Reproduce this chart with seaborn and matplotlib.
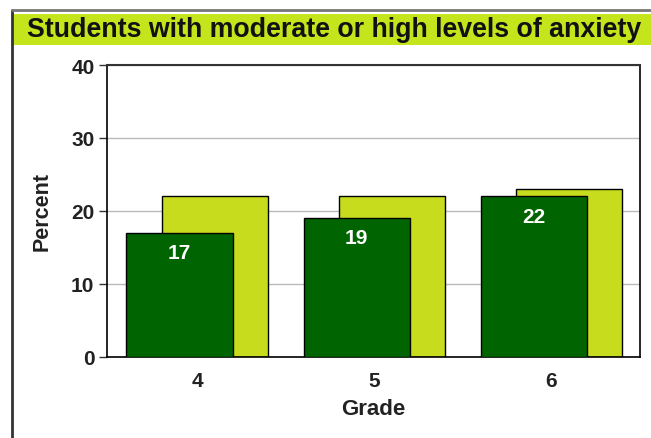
import matplotlib
matplotlib.use("Agg")
import matplotlib.pyplot as plt
from matplotlib.patches import Rectangle
from matplotlib.lines import Line2D
import seaborn as sns
import pandas as pd

grades = ["4", "5", "6"]
front_values = [17, 19, 22]   # dark green bars
back_values = [22, 22, 23]    # light green bars
yticks = [0, 10, 20, 30, 40]
title = "Students with moderate or high levels of anxiety"

sns.set_theme(style="white")
plt.rcParams['font.family'] = ['Liberation Sans', 'DejaVu Sans']

dark = "#006400"
light = "#c8dc1e"
banner = "#c4e51c"

fig = plt.figure(figsize=(6.51, 4.39), dpi=100)
W, H = 651, 439

# frame and title banner
fig.patches.append(Rectangle((13 / W, 1 - 46 / H), 1, 31 / H, transform=fig.transFigure,
                             facecolor=banner, edgecolor="none", zorder=0))
fig.lines.append(Line2D([11.5 / W, 11.5 / W], [0, 1 - 11 / H], transform=fig.transFigure,
                        color="#333333", lw=2))
fig.lines.append(Line2D([11.5 / W, 1], [1 - 11 / H, 1 - 11 / H], transform=fig.transFigure,
                        color="#777777", lw=2))
fig.text(27 / W, 1 - 30 / H, title, ha="left", va="center", fontsize=19.3,
         fontweight="bold", color="#111111")

ax = fig.add_axes([107 / W, 1 - 358 / H, (640 - 107) / W, (358 - 66) / H])

df_back = pd.DataFrame({"Grade": grades, "Percent": back_values})
df_front = pd.DataFrame({"Grade": grades, "Percent": front_values})

sns.barplot(data=df_back, x="Grade", y="Percent", color=light, width=0.6,
            edgecolor="black", linewidth=1, saturation=1, ax=ax, zorder=2)
n_back = len(ax.patches)
for p in ax.patches:
    p.set_x(p.get_x() + 0.1)
sns.barplot(data=df_front, x="Grade", y="Percent", color=dark, width=0.6,
            edgecolor="black", linewidth=1, saturation=1, ax=ax, zorder=3)
for p in ax.patches[n_back:]:
    p.set_x(p.get_x() - 0.1)

ax.bar_label(ax.containers[1], labels=[str(v) for v in front_values], padding=-21,
             color="white", fontsize=15, fontweight="bold", zorder=4)

ax.set_xlim(-0.51, 2.5)
ax.set_ylim(0, 40)
ax.set_yticks(yticks)
ax.yaxis.grid(True, color="#bbbbbb", lw=1, zorder=0)
ax.set_axisbelow(True)
for s in ax.spines.values():
    s.set_visible(True)
    s.set_color("black")
    s.set_linewidth(1.2)
ax.spines["top"].set_color("#333333")
ax.spines["top"].set_linewidth(1.5)

ax.tick_params(axis="y", which="both", left=True, length=6, width=1, color="#333333",
               labelsize=15, labelcolor="#222222", pad=3)
ax.tick_params(axis="x", length=0, labelsize=15, labelcolor="#222222", pad=10)
for lab in ax.get_xticklabels() + ax.get_yticklabels():
    lab.set_fontweight("bold")

ax.set_xlabel("Grade", fontsize=16, fontweight="bold", color="#222222", labelpad=6)
ax.set_ylabel("Percent", fontsize=15.5, fontweight="bold", color="#222222", labelpad=13)

fig.savefig("out.png", dpi=100)
